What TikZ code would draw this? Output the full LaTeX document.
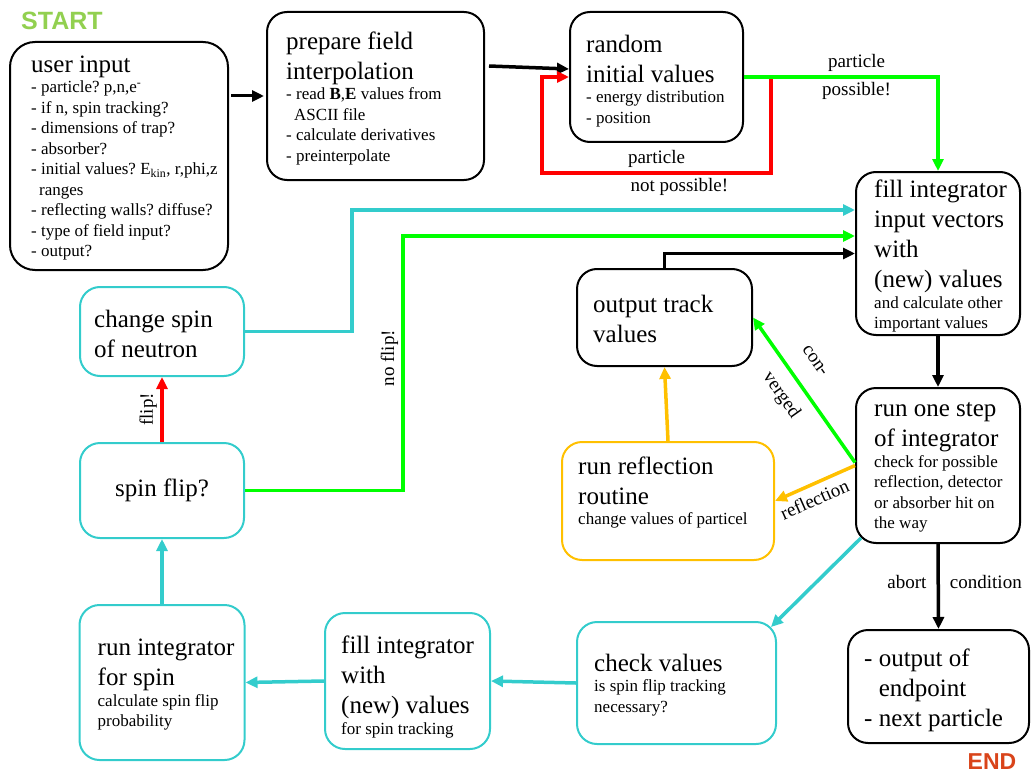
\documentclass[tikz,border=0pt]{standalone}
\usepackage{fontspec}
\setmainfont{Liberation Serif}
\newfontfamily\labelsans{Liberation Sans}
\usepackage{xcolor}
\usetikzlibrary{arrows.meta}

\definecolor{flowcyan}{HTML}{33CCCC}
\definecolor{flowgreen}{HTML}{00FF00}
\definecolor{floworange}{HTML}{FFC000}
\definecolor{startgreen}{HTML}{92D050}
\definecolor{endred}{HTML}{D9441A}

\newcommand\bigtxt{\fontsize{25}{30}\selectfont}
\newcommand\smalltxt{\fontsize{17}{20.5}\selectfont}
\newcommand\edgetxt{\fontsize{19}{23}\selectfont}

\tikzset{
  flowbox/.style={draw, line width=2pt, rounded corners=20pt, inner sep=0pt},
  cyanbox/.style={flowbox, draw=flowcyan},
  boxtext/.style={inner sep=0pt, align=flush left, anchor=west, font=\bigtxt},
  flow/.style={line width=3.5pt, ->},
}

\begin{document}
\frenchspacing
\begin{tikzpicture}[x=1pt, y=-1pt, >={Triangle[length=12pt,width=11pt]}]
    \useasboundingbox (0,0) rectangle (1033,773);

    \node[anchor=west, inner sep=0pt, text=startgreen, font={\labelsans\bfseries\fontsize{25}{25}\selectfont}] (start) at (21,21) {START};
    \node[inner sep=0pt, text=endred, font={\labelsans\bfseries\fontsize{23}{23}\selectfont}] (end) at (992,762) {END};

    % black boxes
    \node[flowbox, minimum width=218pt, minimum height=228pt, rounded corners=25pt] (user) at (119,156) {};
    \node[boxtext, text width=200pt] (user-txt) at ([xshift=22pt,yshift=-2pt]user.west)
        {user input\par\smalltxt - particle? p,n,e\textsuperscript{-}\\- if n, spin tracking?\\- dimensions of trap?\\- absorber?\\- initial values? E\textsubscript{kin}, r,phi,z\\\hspace*{8pt}ranges\\- reflecting walls? diffuse?\\- type of field input?\\- output?\par};

    \node[flowbox, minimum width=217pt, minimum height=168pt] (prep) at (375.5,96) {};
    \node[boxtext, text width=195pt] (prep-txt) at ([xshift=20pt,yshift=-2.5pt]prep.west)
        {prepare field\\interpolation\par\smalltxt - read \textbf{B},\textbf{E} values from\\\hspace*{8pt}ASCII file\\- calculate derivatives\\- preinterpolate\par};

    \node[flowbox, minimum width=173pt, minimum height=130pt] (rand) at (656.5,77) {};
    \node[boxtext, text width=155pt] (rand-txt) at ([xshift=17pt,yshift=-4pt]rand.west)
        {random\\initial values\par\smalltxt - energy distribution\\- position\par};

    \node[flowbox, minimum width=164pt, minimum height=163pt] (fill) at (938,253.5) {};
    \node[boxtext, text width=145pt] (fill-txt) at ([xshift=19pt,yshift=-3pt]fill.west)
        {fill integrator\\input vectors\\with\\(new) values\par\smalltxt and calculate other\\important values\par};

    \node[flowbox, minimum width=175pt, minimum height=97pt] (track) at (664.5,317.5) {};
    \node[boxtext, text width=150pt] (track-txt) at ([xshift=17pt,yshift=-1.5pt]track.west)
        {output track\\values};

    \node[flowbox, minimum width=164pt, minimum height=155pt] (step) at (938,465.5) {};
    \node[boxtext, text width=145pt] (step-txt) at ([xshift=19pt,yshift=-2pt]step.west)
        {run one step\\of integrator\par\smalltxt check for possible\\reflection, detector\\or absorber hit on\\the way\par};

    \node[flowbox, draw=floworange, minimum width=212pt, minimum height=118pt] (refl) at (668,501) {};
    \node[boxtext, text width=190pt] (refl-txt) at ([xshift=17pt,yshift=8.5pt]refl.west)
        {run reflection\\routine\par\smalltxt change values of particel\par};

    \node[flowbox, minimum width=181pt, minimum height=113pt] (endp) at (938.5,686.5) {};
    \node[boxtext, text width=162pt] (endp-txt) at ([xshift=17pt,yshift=-3.5pt]endp.west)
        {- output of\\\phantom{- }endpoint\\- next particle};

    % spin boxes
    \node[cyanbox, minimum width=164pt, minimum height=89pt] (change) at (162,331.5) {};
    \node[boxtext, text width=145pt] (change-txt) at ([xshift=15pt,yshift=-2.5pt]change.west)
        {change spin\\of neutron};

    \node[cyanbox, minimum width=164pt, minimum height=95pt, font=\bigtxt] (spinflip) at (162,490.5) {spin flip?};

    \node[cyanbox, minimum width=165pt, minimum height=155pt] (runint) at (162,682.5) {};
    \node[boxtext, text width=148pt] (runint-txt) at ([xshift=19pt,yshift=-2.5pt]runint.west)
        {run integrator\\for spin\par\smalltxt calculate spin flip\\probability\par};

    \node[cyanbox, minimum width=165pt, minimum height=136pt] (fillspin) at (407.5,681) {};
    \node[boxtext, text width=146pt] (fillspin-txt) at ([xshift=17pt,yshift=-6pt]fillspin.west)
        {fill integrator\\with\\(new) values\par\smalltxt for spin tracking\par};

    \node[cyanbox, minimum width=199pt, minimum height=122pt] (check) at (676.5,683) {};
    \node[boxtext, text width=170pt] (check-txt) at ([xshift=18pt,yshift=-2pt]check.west)
        {check values\par\smalltxt is spin flip tracking\\necessary?\par};

    % connectors
    \draw[flow, line width=3pt] ([xshift=2pt]user.east |- prep.west) -- ([xshift=-2pt]prep.west);
    \draw[flow] ([xshift=4pt,yshift=30pt]prep.east) -- ([yshift=8pt]rand.west);
    \draw[flow, red] (rand.east) -| ([xshift=27pt,yshift=-96pt]rand.east)
        -| node[pos=.25, above, font=\edgetxt, text=black] (np1) {particle}
           node[pos=.2, below, font=\edgetxt, text=black] (np2) {not possible!}
        ([xshift=-27pt]rand.west) -- (rand.west);
    \draw[flow, flowgreen] (rand.east) -| node[pos=.29, above, font=\edgetxt, text=black] (p1) {particle}
        node[pos=.29, below, font=\edgetxt, text=black] (p2) {possible!} (fill.north);
    \draw[flow, flowcyan] (change.east) -- ++(107,0) |- ([yshift=43.5pt]fill.west);
    \draw[flow, flowgreen] (spinflip.east) -- ++(158,0)
        |- node[pos=.26, sloped, above, inner sep=3pt, font=\edgetxt, text=black] (nf) {no flip!} ([yshift=17.5pt]fill.west);
    \draw[flow] (track.north) |- (fill.west);
    \draw[flow] (fill.south) -- (step.north);
    \draw[flow, flowgreen] ([yshift=3pt]step.west) -- node[pos=.55, sloped, align=left, font=\edgetxt, text=black] (cv) {con-\\[25pt]verged} (track.east);
    \draw[flow, floworange] (step.west) -- node[pos=.58, sloped, below, inner sep=6pt, font=\edgetxt, text=black] (rf) {reflection} (refl.east);
    \draw[flow, floworange] (refl.north) -- (track.south);
    \draw[flow, flowcyan] ([shift={(6pt,6pt)}]step.south west) -- ([shift={(-6pt,-6pt)}]check.north east);
    \draw[flow] (step.south) -- node[pos=.45, left=10pt, inner sep=0pt, font=\edgetxt] (ab) {abort}
        node[pos=.45, right=10pt, inner sep=0pt, font=\edgetxt] (cd) {condition} (endp.north);
    \draw[flow, flowcyan] (check.west) -- (fillspin.east);
    \draw[flow, flowcyan] (fillspin.west) -- (runint.east);
    \draw[flow, flowcyan] (runint.north) -- (spinflip.south);
    \draw[flow, red] (spinflip.north) -- node[sloped, above, font=\edgetxt, text=black] (fl) {flip!} (change.south);
\end{tikzpicture}
\end{document}
